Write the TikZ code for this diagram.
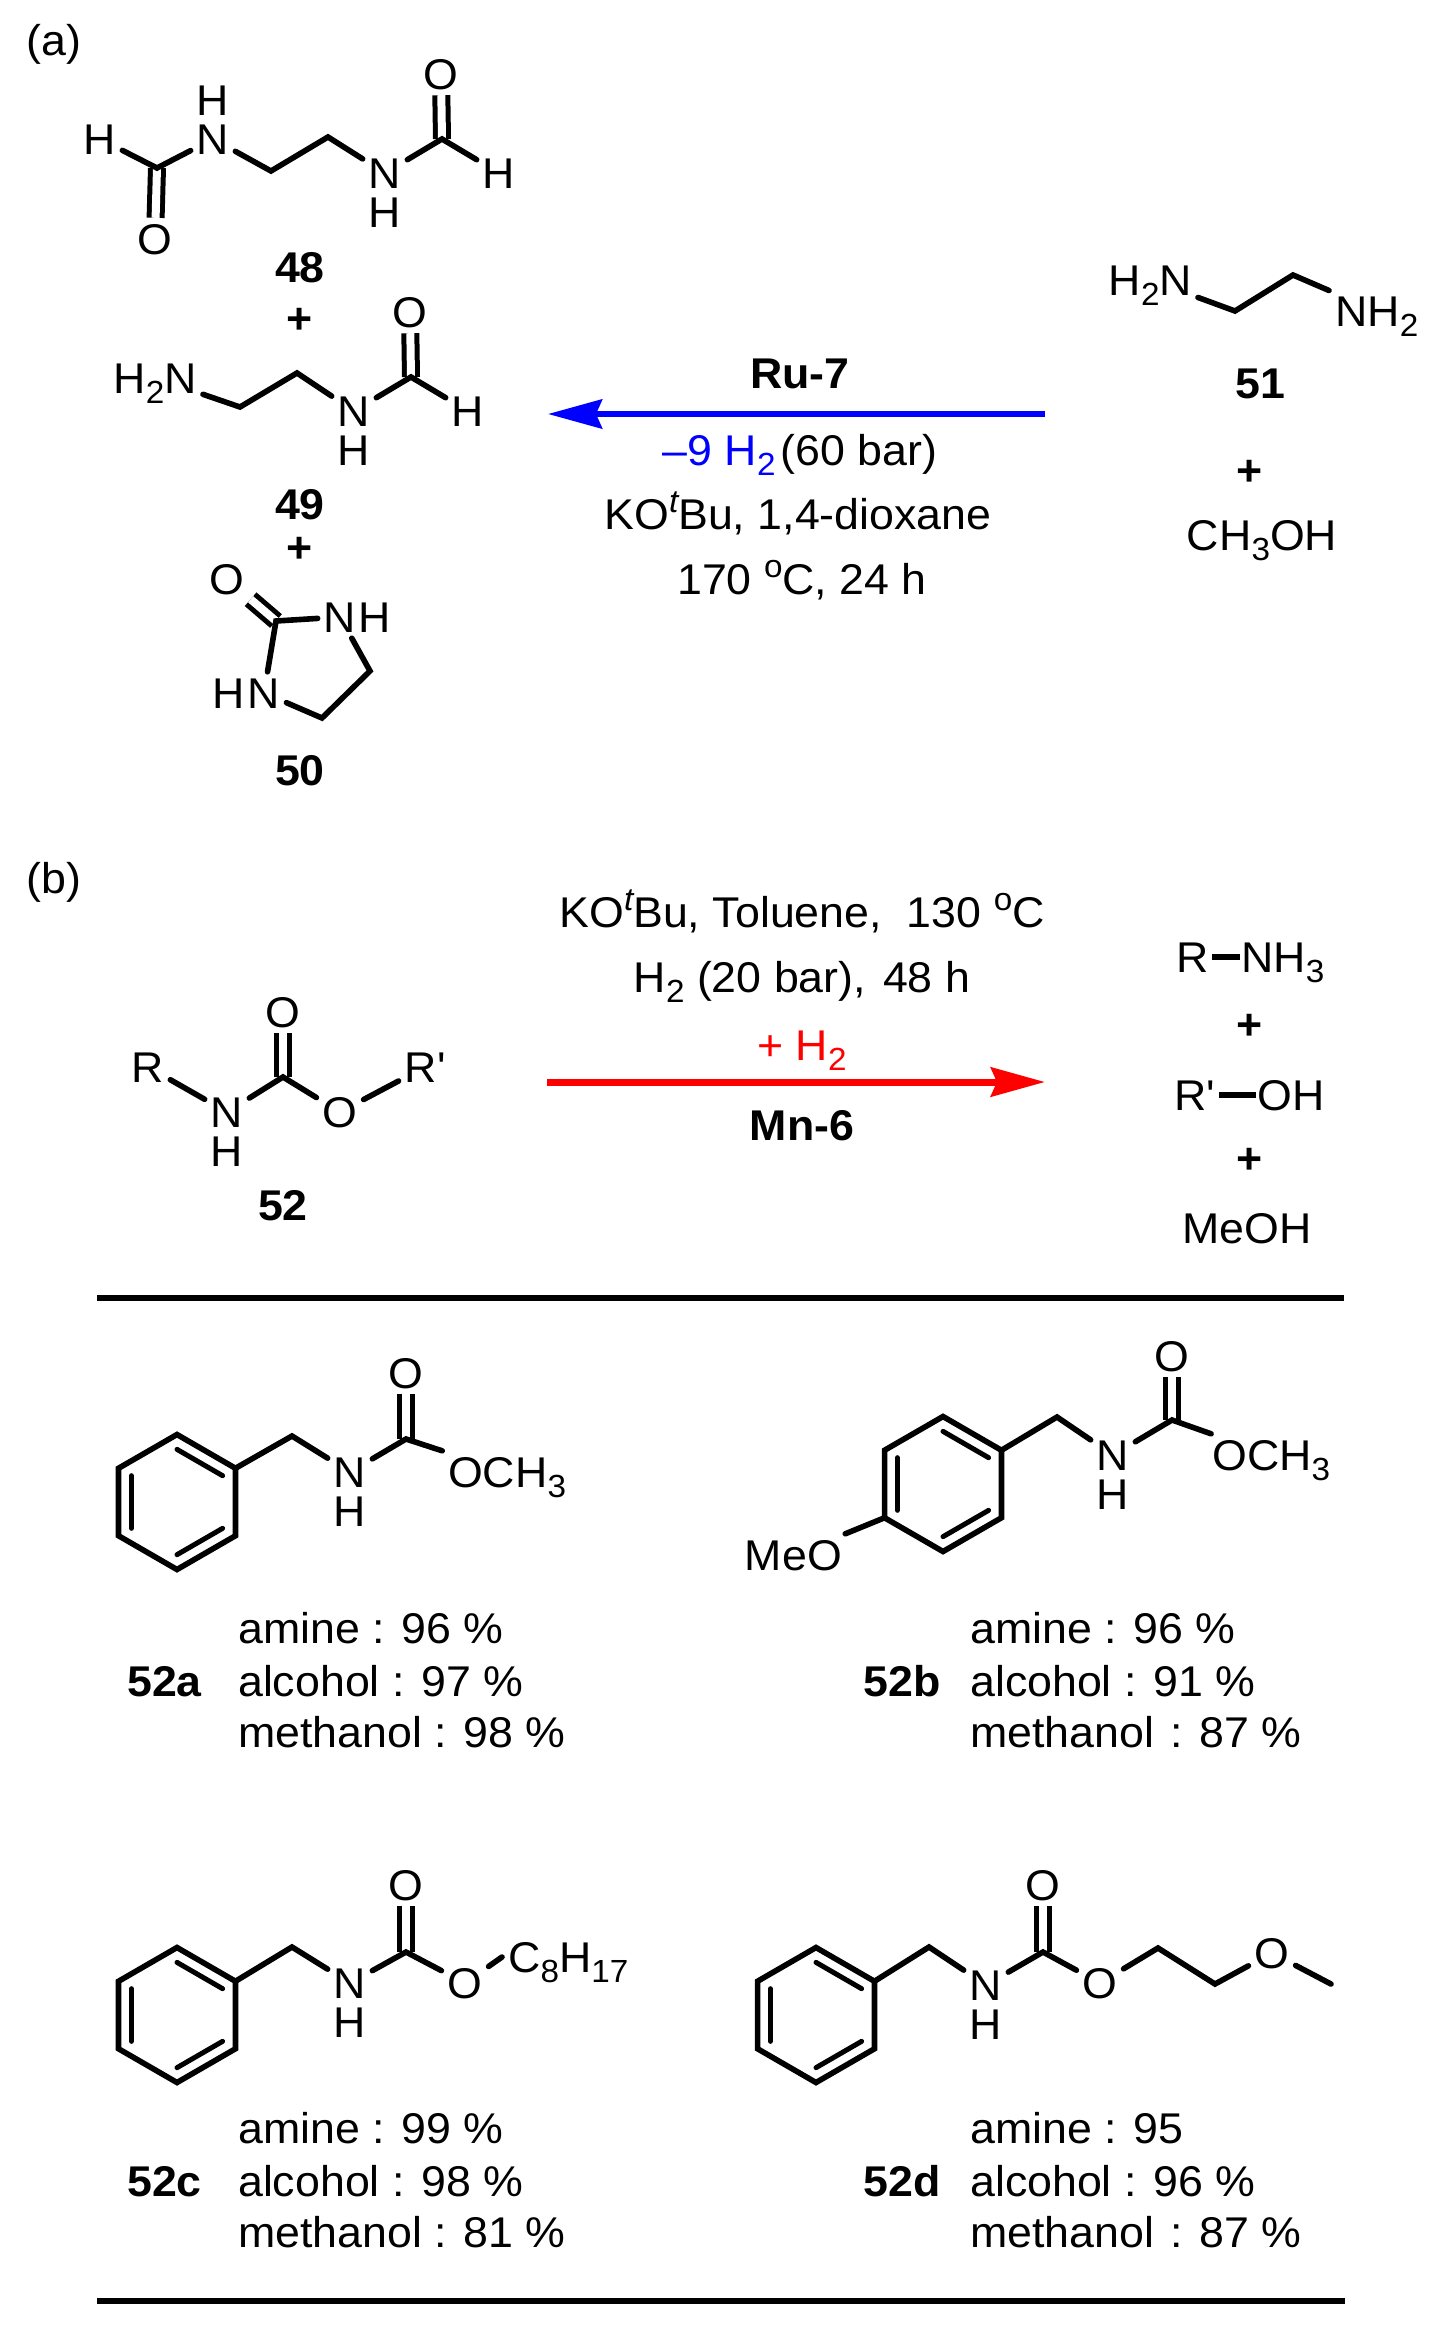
\documentclass[tikz,border=0pt]{standalone}
\usepackage{fontspec}
\usepackage{tikz}
\usetikzlibrary{positioning}
\usetikzlibrary{arrows.meta}
\usetikzlibrary{calc}
\usepackage{xcolor}
\setmainfont{Liberation Sans}[FakeStretch=1.04]

\newcommand{\lowidx}[1]{\raisebox{-10pt}{\fontsize{32}{32}\selectfont #1}}
\newcommand{\upidx}[1]{\raisebox{17pt}{\fontsize{32}{32}\selectfont #1}}

\tikzset{
    atom/.style={font=\fontsize{43}{50}\selectfont, inner sep=6pt, text height=30pt, text depth=0pt},
    txt/.style={font=\fontsize{43}{50}\selectfont, inner sep=0pt, text height=30pt, text depth=0pt},
    lab/.style={txt, font=\fontsize{43}{50}\selectfont\bfseries},
    stat/.style={txt, anchor=west},
    bond/.style={line width=5.6pt, line cap=round},
    dbond/.style={double, double distance=8pt, line width=5pt, line cap=butt},
    rule/.style={line width=6.5pt},
}

\newcommand{\benzring}[3]{
    \coordinate (#1c) at (#2,#3);
    \foreach \k/\a in {1/30,2/90,3/150,4/210,5/270,6/330}
        \coordinate (#1\k) at ($(#1c)+(\a:67.5pt)$);
    \draw[line width=5.6pt] (#11) -- (#12) -- (#13) -- (#14) -- (#15) -- (#16) -- cycle;
    \foreach \p/\q in {1/2,3/4,5/6}
        \draw[bond, line width=5pt] ($(#1c)!.78!(#1\p)$) -- ($(#1c)!.78!(#1\q)$);
}

\newcommand{\yieldset}[8]{
    \node[stat] (#1m) at (#3,#4) {#7};
    \node[stat] (#1a) at (#3,#4-53) {#6};
    \node[stat] (#1o) at (#3,#4+51) {#8};
    \node[lab, left=#2 of #1m] (#1n) {#5};
}

\begin{document}
\begin{tikzpicture}[x=1pt, y=-1pt, >=Stealth, node distance=39pt]
    \useasboundingbox (0,0) rectangle (1434,2327);
    \fill[white] (0,0) rectangle (1434,2327);

    \node[txt] (parta) at (54,40) {(a)};
    \node[txt] (partb) at (54,878) {(b)};

    % 48
    \node[atom] (m48h1) at (100,139) {H};
    \node[atom] (m48n1) at (213,139) {N};
    \node[atom, above of=m48n1] (m48hn1) {H};
    \coordinate (m48c1) at (157,168);
    \node[atom] (m48o1) at (155,239) {O};
    \coordinate (m48c2) at (271,171);
    \coordinate (m48c3) at (328,137);
    \node[atom] (m48n2) at (385,173) {N};
    \node[atom, below of=m48n2] (m48hn2) {H};
    \coordinate (m48c4) at (442,139);
    \node[atom] (m48o2) at (441,74) {O};
    \node[atom] (m48h2) at (499,173) {H};
    \draw[dbond] (m48c1) -- (m48o1);
    \draw[dbond] (m48c4) -- (m48o2);
    \draw[bond] (m48h1) -- (m48c1) -- (m48n1) -- (m48c2) -- (m48c3) -- (m48n2) -- (m48c4) -- (m48h2);
    \node[lab] (lb48) at (300,267) {48};
    \node[lab] (pl48) at (300,318) {+};

    % 49
    \node[atom, anchor=east] (m49nh) at (203,378) {H\lowidx{2}N};
    \coordinate (m49c1) at (240,407);
    \coordinate (m49c2) at (297,373);
    \node[atom] (m49n) at (354,411) {N};
    \node[atom, below of=m49n] (m49hn) {H};
    \coordinate (m49c3) at (411,377);
    \node[atom] (m49o) at (410,312) {O};
    \node[atom] (m49h) at (468,411) {H};
    \draw[dbond] (m49c3) -- (m49o);
    \draw[bond] (m49nh) -- (m49c1) -- (m49c2) -- (m49n) -- (m49c3) -- (m49h);
    \node[lab] (lb49) at (300,504) {49};
    \node[lab] (pl49) at (300,547) {+};

    % 50
    \node[atom] (m50o) at (227,579) {O};
    \coordinate (m50c1) at (276,621);
    \node[atom] (m50n1) at (340,617) {N};
    \node[atom, right of=m50n1, node distance=35pt] (m50h1) {H};
    \coordinate (m50c2) at (370,671);
    \coordinate (m50c3) at (322,718);
    \node[atom] (m50n2) at (264,693) {N};
    \node[atom, left of=m50n2, node distance=35pt] (m50h2) {H};
    \draw[dbond] (m50c1) -- (m50o);
    \draw[bond] (m50n1) -- (m50c1) -- (m50n2) -- (m50c3) -- (m50c2) -- (m50n1);
    \node[lab] (lb50) at (300,770) {50};

    % 51
    \node[atom, anchor=east] (m51nh1) at (1198,280) {H\lowidx{2}N};
    \coordinate (m51c1) at (1235,311);
    \coordinate (m51c2) at (1293,275);
    \node[atom, anchor=west] (m51nh2) at (1329,311) {NH\lowidx{2}};
    \draw[bond] (m51nh1) -- (m51c1) -- (m51c2) -- (m51nh2);
    \node[lab] (lb51) at (1260,383) {51};
    \node[lab] (pl51) at (1250,470) {+};
    \node[txt] (meoh1) at (1262,535) {CH\lowidx{3}OH};

    % first arrow
    \coordinate (blueend) at (1045,414);
    \coordinate (bluetip) at (548,414);
    \draw[blue, line width=6pt, -{Stealth[length=54pt, width=29pt, inset=6pt]}] (blueend) -- (bluetip);
    \node[lab] (ru) at (800,373) {Ru-7};
    \node[txt] (cond1) at (800,450) {{\color{blue}--9 H\lowidx{2}}\hspace{5pt}(60 bar)};
    \node[txt] (cond2) at (798,514) {KO\upidx{\itshape t}Bu, 1,4-dioxane};
    \node[txt] (cond3) at (802,579) {170 \upidx{o}C, 24 h};

    % 52
    \node[atom] (m52r1) at (148,1067) {R};
    \node[atom] (m52n) at (227,1112) {N};
    \node[atom, below of=m52n] (m52hn) {H};
    \coordinate (m52c) at (283,1077);
    \node[atom] (m52o1) at (283,1012) {O};
    \node[atom] (m52o2) at (340,1112) {O};
    \node[atom] (m52r2) at (425,1067) {R\textquotesingle};
    \draw[dbond] (m52c) -- (m52o1);
    \draw[bond] (m52r1) -- (m52n) -- (m52c) -- (m52o2) -- (m52r2);
    \node[lab] (lb52) at (283,1205) {52};

    % second arrow
    \coordinate (redend) at (547,1082);
    \coordinate (redtip) at (1045,1082);
    \draw[red, line width=7pt, -{Stealth[length=54pt, width=29pt, inset=6pt]}] (redend) -- (redtip);
    \node[txt] (cond4) at (802,912) {KO\upidx{\itshape t}Bu, Toluene,\ \ 130 \upidx{o}C};
    \node[txt] (cond5) at (802,977) {H\lowidx{2} (20 bar),\hspace{17pt}48 h};
    \node[txt, red] (cond6) at (802,1045) {+ H\lowidx{2}};
    \node[lab] (mn) at (802,1125) {Mn-6};

    % products
    \node[txt] (prr1) at (1193,957) {R};
    \node[txt, anchor=west] (prnh) at (1241,957) {NH\lowidx{3}};
    \draw[line width=6pt] ([xshift=3pt]prr1.east) -- ([xshift=-1pt]prnh.west);
    \node[lab] (pl3) at (1250,1024) {+};
    \node[txt, anchor=west] (prr2) at (1174,1095) {R\textquotesingle};
    \node[txt, anchor=west] (proh) at (1257,1095) {OH};
    \draw[line width=6pt] ([xshift=4pt]prr2.east) -- ([xshift=-1pt]proh.west);
    \node[lab] (pl4) at (1250,1158) {+};
    \node[txt] (prme) at (1247,1228) {MeOH};

    \coordinate (rul1) at (97,1298);
    \coordinate (rur1) at (1344,1298);
    \draw[rule] (rul1) -- (rur1);

    % 52a
    \benzring{ra}{177}{1502}
    \coordinate (saa) at (292,1436);
    \node[atom] (san) at (350,1472) {N};
    \node[atom, below of=san] (sah) {H};
    \coordinate (sac) at (406,1439);
    \node[atom] (sao) at (406,1373) {O};
    \node[atom, anchor=west] (saoc) at (442,1472) {OCH\lowidx{3}};
    \draw[dbond] (sac) -- (sao);
    \draw[bond] (ra1) -- (saa) -- (san) -- (sac) -- (saoc);
    \yieldset{ya}{36pt}{238}{1681}{52a}{amine : 96 \%}{alcohol : 97 \%}{methanol : 98 \%}

    % 52b
    \benzring{rb}{943}{1484}
    \coordinate (sba) at (1057,1417);
    \node[atom] (sbn) at (1113,1455) {N};
    \node[atom, below of=sbn] (sbh) {H};
    \coordinate (sbc) at (1172,1420);
    \node[atom] (sbo) at (1172,1356) {O};
    \node[atom, anchor=west] (sboc) at (1206,1455) {OCH\lowidx{3}};
    \node[atom, anchor=east] (sbme) at (848,1555) {MeO};
    \draw[dbond] (sbc) -- (sbo);
    \draw[bond] (rb1) -- (sba) -- (sbn) -- (sbc) -- (sboc);
    \draw[bond] (rb4) -- (sbme);
    \yieldset{yb}{29pt}{970}{1681}{52b}{amine : 96 \%}{alcohol : 91 \%}{methanol\hspace{4pt} : 87 \%}

    % 52c
    \benzring{rc}{177}{2015}
    \coordinate (sca) at (292,1947);
    \node[atom] (scn) at (350,1983) {N};
    \node[atom, below of=scn] (sch) {H};
    \coordinate (scc) at (406,1952);
    \node[atom] (sco1) at (406,1885) {O};
    \node[atom] (sco2) at (465,1983) {O};
    \node[atom, anchor=west] (scalk) at (502,1957) {C\lowidx{8}H\lowidx{17}};
    \draw[dbond] (scc) -- (sco1);
    \draw[bond] (rc1) -- (sca) -- (scn) -- (scc) -- (sco2) -- (scalk.west);
    \yieldset{yc}{36pt}{238}{2181}{52c}{amine : 99 \%}{alcohol : 98 \%}{methanol : 81 \%}

    % 52d
    \benzring{rd}{816}{2015}
    \coordinate (sda) at (929,1947);
    \node[atom] (sdn) at (986,1985) {N};
    \node[atom, below of=sdn] (sdh) {H};
    \coordinate (sdc) at (1043,1952);
    \node[atom] (sdo1) at (1043,1885) {O};
    \node[atom] (sdo2) at (1100,1983) {O};
    \coordinate (sde1) at (1158,1948);
    \coordinate (sde2) at (1215,1984);
    \node[atom] (sdo3) at (1272,1953) {O};
    \coordinate (sdme) at (1331,1984);
    \draw[dbond] (sdc) -- (sdo1);
    \draw[bond] (rd1) -- (sda) -- (sdn) -- (sdc) -- (sdo2) -- (sde1) -- (sde2) -- (sdo3) -- (sdme);
    \yieldset{yd}{29pt}{970}{2181}{52d}{amine : 95}{alcohol : 96 \%}{methanol\hspace{4pt} : 87 \%}

    \coordinate (rul2) at (97,2301);
    \coordinate (rur2) at (1345,2301);
    \draw[rule] (rul2) -- (rur2);
\end{tikzpicture}
\end{document}
